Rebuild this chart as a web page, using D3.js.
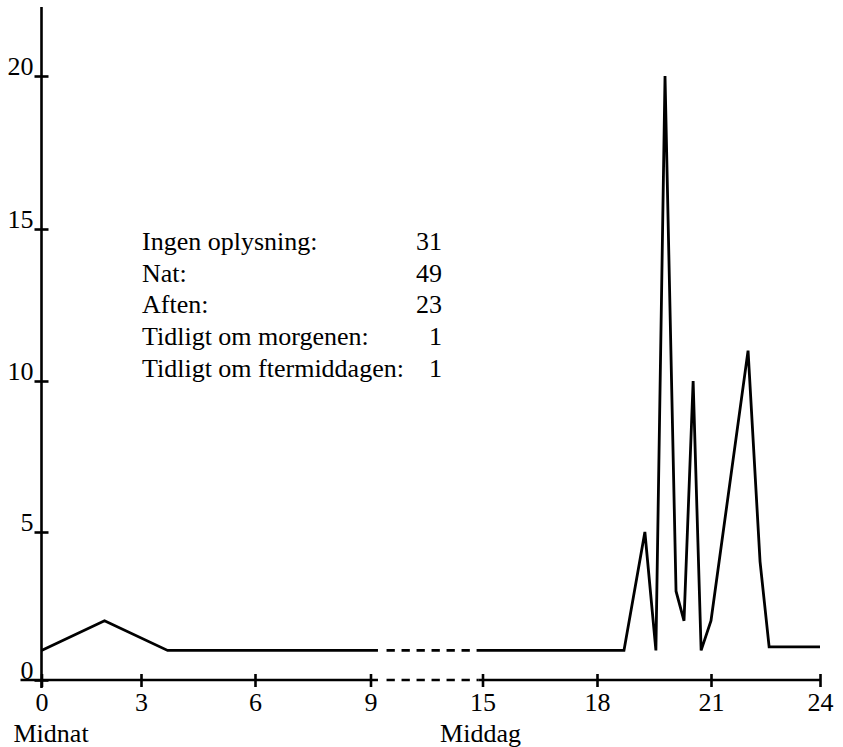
<!DOCTYPE html>
<html>
<head>
<meta charset="utf-8">
<script src="https://cdn.jsdelivr.net/npm/d3@7/dist/d3.min.js"></script>
<style>
  html, body { margin: 0; padding: 0; background: #fff; }
  svg { display: block; }
  text { font-family: "Liberation Serif", "Times New Roman", serif; fill: #000; }
</style>
</head>
<body>
<svg id="chart" width="843" height="747"></svg>
<script>
// ---- data ----
const xTickValues = [0, 3, 6, 9, 15, 18, 21, 24];
const yTickValues = [0, 5, 10, 15, 20];
// before the axis break (night / morning)
const hoursLeft  = [0, 1.9, 3.7, 9.4];
const countsLeft = [1, 2, 1, 1];
// after the axis break (afternoon / evening)
const hoursRight  = [14.7, 18.71, 19.26, 19.55, 19.79, 20.08, 20.29, 20.53, 20.74, 21.0, 22.02, 22.35, 22.6, 24];
const countsRight = [1, 1, 5, 1, 20, 3, 2, 10, 1, 2, 11, 4, 1.12, 1.12];
// break (dashed) section of the line
const breakHours  = [9.5, 14.7];
const breakCounts = [1, 1];
// legend
const legendLabels = ["Ingen oplysning:", "Nat:", "Aften:", "Tidligt om morgenen:", "Tidligt om ftermiddagen:"];
const legendValues = [31, 49, 23, 1, 1];
const xSubLabels = [{ hour: 0, text: "Midnat", anchor: "start", dx: -28 }, { hour: 15, text: "Middag", anchor: "middle", dx: -2 }];

// ---- layout ----
const svg = d3.select("#chart");
const FONT = 26;

// piecewise (broken) time axis, as drawn in the original
const x = d3.scaleLinear()
  .domain(xTickValues)
  .range([41.5, 141, 255, 370.5, 482.5, 597, 711, 820]);
const y = d3.scaleLinear()
  .domain(yTickValues)
  .range([680, 532, 381, 229, 76]);

const axisW = 2.6, lineW = 2.8;
const dash = "8.3,6.7";

// ---- axes ----
const gx = svg.append("g").attr("transform", `translate(0,${y(0)})`);
// axis line: solid, dashed over the break, solid
gx.append("line").attr("x1", x(0) - 21).attr("x2", x(9.4)).attr("y1", 0).attr("y2", 0)
  .attr("stroke", "#000").attr("stroke-width", axisW);
gx.append("line").attr("x1", x(9.5)).attr("x2", x(14.8)).attr("y1", 0).attr("y2", 0)
  .attr("stroke", "#000").attr("stroke-width", axisW)
  .attr("stroke-dasharray", dash).attr("stroke-dashoffset", 8.3);
gx.append("line").attr("x1", x(14.8)).attr("x2", x(24) + 1).attr("y1", 0).attr("y2", 0)
  .attr("stroke", "#000").attr("stroke-width", axisW);

const xAxis = d3.axisBottom(x).tickValues(xTickValues).tickFormat(d3.format("d")).tickSize(7).tickPadding(0);
const gxa = gx.append("g").call(xAxis);
gxa.select(".domain").remove();
gxa.selectAll(".tick line").attr("y1", -6).attr("stroke", "#000").attr("stroke-width", axisW);
gxa.selectAll(".tick text").attr("y", 31).attr("dy", null)
  .style("font-family", '"Liberation Serif", serif').style("font-size", FONT + "px").attr("fill", "#000");

gx.selectAll(".sub").data(xSubLabels).enter().append("text")
  .attr("class", "sub")
  .attr("x", d => x(d.hour) + d.dx).attr("y", 62)
  .attr("text-anchor", d => d.anchor)
  .style("font-size", FONT + "px")
  .text(d => d.text);

const gy = svg.append("g").attr("transform", `translate(${x(0)},0)`);
gy.append("line").attr("x1", 0).attr("x2", 0).attr("y1", y(20) - 69).attr("y2", y(0) + 8)
  .attr("stroke", "#000").attr("stroke-width", axisW);
const yAxis = d3.axisLeft(y).tickValues(yTickValues).tickFormat(d3.format("d")).tickSize(7).tickPadding(0);
const gya = gy.append("g").call(yAxis);
gya.select(".domain").remove();
gya.selectAll(".tick line").attr("x1", 7).attr("x2", -7).attr("stroke", "#000").attr("stroke-width", axisW);
gya.selectAll(".tick text").attr("x", -8).attr("dy", null).attr("y", -2)
  .style("font-family", '"Liberation Serif", serif').style("font-size", FONT + "px").attr("fill", "#000");

// ---- data line ----
const line = d3.line().x(d => x(d[0])).y(d => y(d[1]));
const leftPts = hoursLeft.map((h, i) => [h, countsLeft[i]]);
const rightPts = hoursRight.map((h, i) => [h, countsRight[i]]);
const breakPts = breakHours.map((h, i) => [h, breakCounts[i]]);

svg.append("path").datum(leftPts).attr("d", line)
  .attr("fill", "none").attr("stroke", "#000").attr("stroke-width", lineW).attr("stroke-linejoin", "miter");
svg.append("path").datum(breakPts).attr("d", line)
  .attr("fill", "none").attr("stroke", "#000").attr("stroke-width", lineW)
  .attr("stroke-dasharray", dash).attr("stroke-dashoffset", 8.3);
svg.append("path").datum(rightPts).attr("d", line)
  .attr("fill", "none").attr("stroke", "#000").attr("stroke-width", lineW).attr("stroke-linejoin", "miter");

// ---- legend text ----
const lg = svg.append("g").attr("transform", "translate(142,250)");
lg.selectAll(".lab").data(legendLabels).enter().append("text")
  .attr("x", 0).attr("y", (d, i) => i * 31.7)
  .style("font-size", FONT + "px").text(d => d);
lg.selectAll(".val").data(legendValues).enter().append("text")
  .attr("x", 300).attr("y", (d, i) => i * 31.7)
  .attr("text-anchor", "end")
  .style("font-size", FONT + "px").text(d => d);
</script>
</body>
</html>
